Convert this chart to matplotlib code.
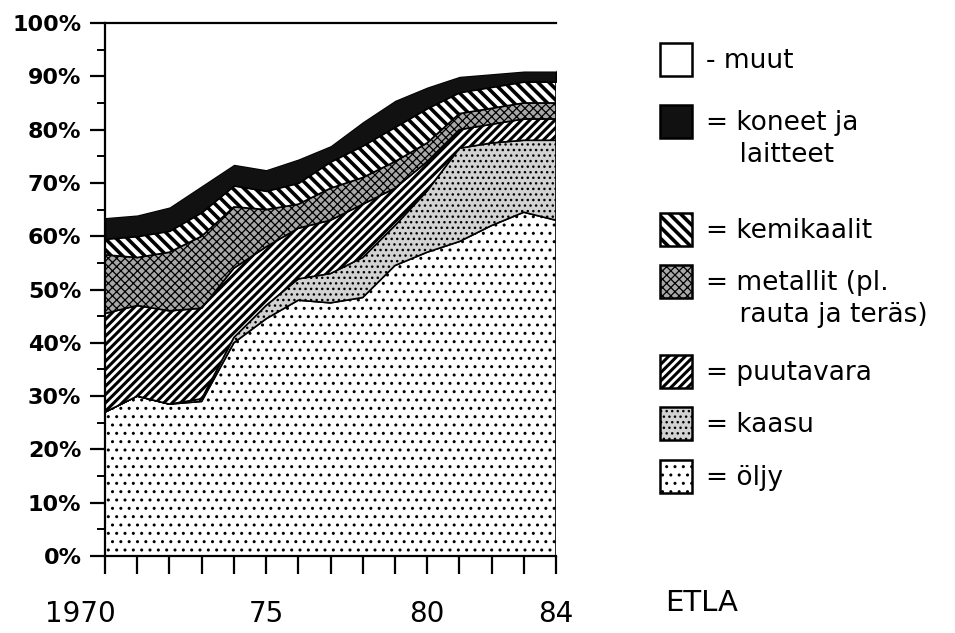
import matplotlib
matplotlib.use("Agg")
import matplotlib.pyplot as plt
import matplotlib.transforms as mtransforms
from matplotlib.patches import Rectangle

years = list(range(1970, 1985))
xtick_labels = ["1970", "", "", "", "", "75", "", "", "", "", "80", "", "", "", "84"]
ytick_labels = ["0%", "10%", "20%", "30%", "40%", "50%", "60%", "70%", "80%", "90%", "100%"]

# cumulative upper edge of each layer, %
oljy_top = [27, 30, 28.5, 29, 40, 44.5, 48, 47.5, 48.5, 54.5, 57, 59, 62, 64.5, 63]
kaasu_top = [27, 30, 28.5, 29.5, 41, 47, 52, 53, 56, 62, 68.5, 76.5, 77.5, 78, 78]
puutavara_top = [45.5, 47, 46, 46.5, 54, 58, 61.5, 63, 66, 69, 74, 80, 81, 82, 82]
metallit_top = [56.5, 56, 57, 60, 65.5, 65, 66, 69, 71, 74, 77.5, 83, 84, 85, 85]
kemikaalit_top = [59.5, 60, 61, 64.5, 69.5, 68.5, 70, 74, 77, 80.5, 84, 87, 88, 89, 89]
koneet_top = [63.5, 64, 65.5, 69.5, 73.5, 72.5, 74.5, 77, 81.5, 85.5, 88, 90, 90.5, 91, 91]
muut_top = [100] * 15

labels = ["- muut", "= koneet ja\n    laitteet", "= kemikaalit", "= metallit (pl.\n    rauta ja teräs)",
          "= puutavara", "= kaasu", "= öljy"]

W, H = 955, 633
fig = plt.figure(figsize=(W / 100, H / 100), dpi=100)
ax = fig.add_axes([105 / W, 1 - 556 / H, 451 / W, 533 / H])

# (lower, upper, face, hatch, hatch lw, edge lw)
layers = [
    ([0] * 15, oljy_top, "white", "..", 1.0, 1.2),
    (oljy_top, kaasu_top, "#d2d2d2", "...", 1.0, 1.2),
    (kaasu_top, puutavara_top, "white", "////", 2.2, 1.2),
    (puutavara_top, metallit_top, "#a8a8a8", "xxxx", 0.9, 1.2),
    (metallit_top, kemikaalit_top, "white", "\\\\\\", 2.6, 1.2),
    (kemikaalit_top, koneet_top, "#111111", None, 1.0, 1.2),
    (koneet_top, muut_top, "white", None, 1.0, 0),
]
styles = []
for lo, hi, fc, hatch, hlw, elw in layers:
    with plt.rc_context({"hatch.linewidth": hlw}):
        coll = ax.fill_between(years, lo, hi, facecolor=fc, edgecolor="black",
                               hatch=hatch, linewidth=elw)
        if hasattr(coll, "set_hatch_linewidth"):
            coll.set_hatch_linewidth(hlw)
    styles.append((fc, hatch, hlw))

ax.set_xlim(1970, 1984)
ax.set_ylim(0, 100)
ax.spines["right"].set_visible(False)
for s in ("left", "bottom", "top"):
    ax.spines[s].set_linewidth(1.6)

ax.set_xticks(years)
ax.set_xticklabels(xtick_labels, fontsize=20)
ax.set_yticks(range(0, 101, 10))
ax.set_yticklabels(ytick_labels, fontsize=16, fontweight="bold")
ax.set_yticks(range(5, 100, 10), minor=True)
ax.tick_params(axis="x", direction="out", length=13, width=1.6, pad=19)
ax.tick_params(axis="y", which="major", direction="out", length=11, width=1.6, pad=6)
ax.tick_params(axis="y", which="minor", direction="out", length=6, width=1.4)
# first year label sits left of its tick in the original
first = ax.get_xticklabels()[0]
first.set_transform(first.get_transform() + mtransforms.ScaledTranslation(-0.25, 0, fig.dpi_scale_trans))

# legend drawn in figure coordinates
box_y = [43, 105, 213, 265, 355, 407, 460]
legend_order = [6, 5, 4, 3, 2, 1, 0]
for i, yb in enumerate(box_y):
    fc, hatch, hlw = styles[legend_order[i]]
    with plt.rc_context({"hatch.linewidth": hlw}):
        r = Rectangle((660 / W, 1 - (yb + 33) / H), 32 / W, 33 / H, transform=fig.transFigure,
                      facecolor=fc, edgecolor="black", hatch=hatch, linewidth=1.8)
        if hasattr(r, "set_hatch_linewidth"):
            r.set_hatch_linewidth(hlw)
    fig.add_artist(r)
    if "\n" in labels[i]:
        fig.text(706 / W, 1 - (yb + 5) / H, labels[i], fontsize=19, va="top", ha="left",
                 linespacing=1.3)
    else:
        fig.text(706 / W, 1 - (yb + 18) / H, labels[i], fontsize=19, va="center", ha="left")

fig.text(665 / W, 1 - 603 / H, "ETLA", fontsize=21, va="center", ha="left")

fig.savefig("out.png", dpi=100)
